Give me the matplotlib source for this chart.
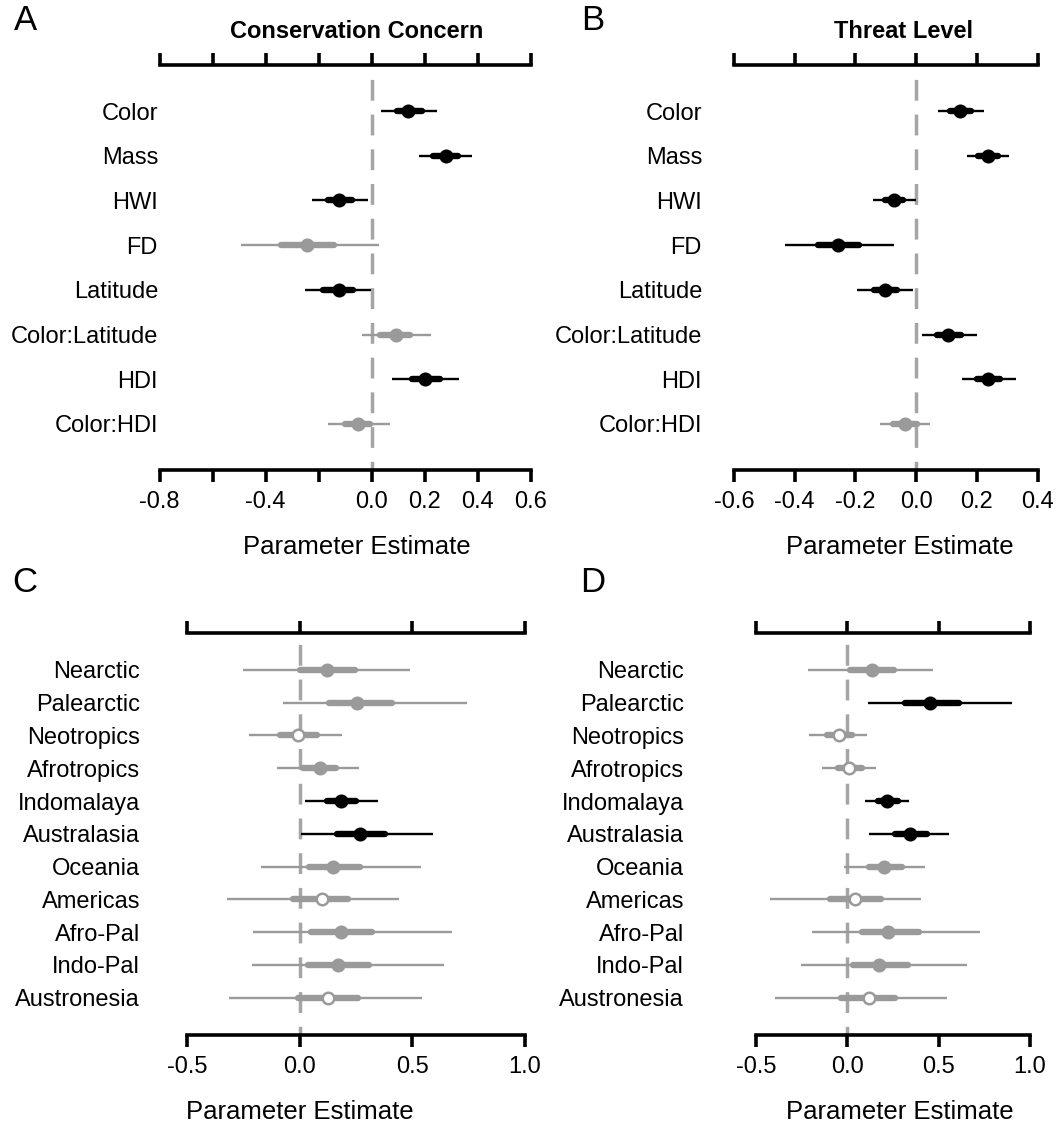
import matplotlib
matplotlib.use("Agg")
import matplotlib.pyplot as plt
from matplotlib import transforms

plt.rcParams["font.family"] = ["Liberation Sans", "DejaVu Sans"]

# ---- model terms (panels A and B) ----
terms = ["Color", "Mass", "HWI", "FD", "Latitude", "Color:Latitude", "HDI", "Color:HDI"]

# conservation concern
cc_est  = [0.138, 0.280, -0.122, -0.243, -0.122, 0.090, 0.200, -0.051]
cc_lo95 = [0.034, 0.178, -0.224, -0.493, -0.252, -0.036, 0.075, -0.166]
cc_hi95 = [0.245, 0.379, -0.013, 0.028, -0.004, 0.223, 0.329, 0.069]
cc_lo50 = [0.094, 0.232, -0.164, -0.343, -0.183, 0.031, 0.150, -0.101]
cc_hi50 = [0.188, 0.326, -0.076, -0.141, -0.070, 0.144, 0.257, -0.007]

# threat level
tl_est  = [0.144, 0.237, -0.074, -0.256, -0.103, 0.106, 0.237, -0.037]
tl_lo95 = [0.071, 0.167, -0.141, -0.432, -0.196, 0.018, 0.152, -0.119]
tl_hi95 = [0.223, 0.305, -0.002, -0.073, -0.010, 0.201, 0.328, 0.045]
tl_lo50 = [0.111, 0.205, -0.103, -0.322, -0.139, 0.070, 0.199, -0.075]
tl_hi50 = [0.179, 0.270, -0.042, -0.187, -0.064, 0.146, 0.276, 0.002]

# ---- realms (panels C and D) ----
realms = ["Nearctic", "Palearctic", "Neotropics", "Afrotropics", "Indomalaya",
          "Australasia", "Oceania", "Americas", "Afro-Pal", "Indo-Pal", "Austronesia"]

rc_est  = [0.122, 0.255, -0.007, 0.089, 0.183, 0.267, 0.148, 0.097, 0.181, 0.171, 0.126]
rc_lo95 = [-0.254, -0.076, -0.225, -0.100, 0.023, 0.005, -0.173, -0.325, -0.210, -0.211, -0.314]
rc_hi95 = [0.489, 0.744, 0.186, 0.264, 0.346, 0.590, 0.537, 0.440, 0.677, 0.641, 0.544]
rc_lo50 = [0.000, 0.131, -0.088, 0.015, 0.119, 0.163, 0.042, -0.029, 0.049, 0.037, -0.007]
rc_hi50 = [0.245, 0.408, 0.075, 0.160, 0.249, 0.378, 0.267, 0.215, 0.322, 0.308, 0.259]
rc_hollow = [False, False, True, False, False, False, False, True, False, False, True]

rt_est  = [0.133, 0.453, -0.047, 0.009, 0.216, 0.343, 0.203, 0.042, 0.221, 0.175, 0.120]
rt_lo95 = [-0.214, 0.112, -0.208, -0.139, 0.097, 0.119, -0.018, -0.423, -0.192, -0.255, -0.396]
rt_hi95 = [0.470, 0.900, 0.110, 0.155, 0.339, 0.558, 0.425, 0.402, 0.726, 0.654, 0.547]
rt_lo50 = [0.015, 0.316, -0.110, -0.049, 0.170, 0.261, 0.120, -0.095, 0.079, 0.033, -0.036]
rt_hi50 = [0.256, 0.611, 0.024, 0.079, 0.279, 0.435, 0.298, 0.184, 0.394, 0.334, 0.261]
rt_hollow = [False, False, True, True, False, False, False, True, False, False, True]

ticks_a = [-0.8, -0.6, -0.4, -0.2, 0.0, 0.2, 0.4, 0.6]
labels_a = ["-0.8", "", "-0.4", "", "0.0", "0.2", "0.4", "0.6"]
ticks_b = [-0.6, -0.4, -0.2, 0.0, 0.2, 0.4]
labels_b = ["-0.6", "-0.4", "-0.2", "0.0", "0.2", "0.4"]
ticks_cd = [-0.5, 0.0, 0.5, 1.0]
labels_cd = ["-0.5", "0.0", "0.5", "1.0"]

W, H = 1058, 1132
GREY = "#9a9a9a"
ZERO = "#a5a5a5"
FS = 17

fig = plt.figure(figsize=(W / 100, H / 100), dpi=100)


def box(x0, x1, y0, y1):
    """axes rect from pixel edges (y measured from the top)"""
    return [x0 / W, 1 - y1 / H, (x1 - x0) / W, (y1 - y0) / H]


def draw_panel(rect, names, est, lo95, hi95, lo50, hi50, ticks, labels,
               ylim, label_px, hollow=None):
    ax = fig.add_axes(rect)
    ax.set_xlim(ticks[0], ticks[-1])
    ax.set_ylim(*ylim)
    ax.plot([0, 0], ylim, color=ZERO, lw=2.5, linestyle=(3.5, (6.0, 4.0)),
            solid_capstyle="butt", zorder=1)
    ytrans = transforms.blended_transform_factory(fig.transFigure, ax.transData)
    for i, name in enumerate(names):
        r = i + 1
        col = "black" if (lo95[i] > 0 or hi95[i] < 0) else GREY
        ax.plot([lo95[i], hi95[i]], [r, r], color=col, lw=1.7,
                solid_capstyle="butt", zorder=2)
        ax.plot([lo50[i], hi50[i]], [r, r], color=col, lw=4.6,
                solid_capstyle="round", zorder=3)
        face = "white" if (hollow and hollow[i]) else col
        ax.plot(est[i], r, "o", ms=8.3, mfc=face, mec=col, mew=1.8, zorder=4)
        ax.text(label_px / W, r, name, transform=ytrans, ha="right",
                va="center_baseline", fontsize=FS)
    for side in ("left", "right"):
        ax.spines[side].set_visible(False)
    for side in ("top", "bottom"):
        ax.spines[side].set_linewidth(2.6)
        ax.spines[side].set_capstyle("projecting")
    ax.set_xticks(ticks)
    ax.set_xticklabels(labels)
    ax.set_yticks([])
    ax.tick_params(axis="x", top=True, bottom=True, direction="out",
                   length=8.5, width=2.6, labelsize=FS, pad=6.5)
    ax.patch.set_visible(False)
    return ax


n_ab = len(terms)
ylim_ab = (n_ab + 1.03, -0.03)
n_cd = len(realms)
ylim_cd = (n_cd + 1.135, -0.135)

draw_panel(box(159.5, 531, 65, 470), terms, cc_est, cc_lo95, cc_hi95,
           cc_lo50, cc_hi50, ticks_a, labels_a, ylim_ab, 158)
draw_panel(box(734, 1037.7, 65, 470), terms, tl_est, tl_lo95, tl_hi95,
           tl_lo50, tl_hi50, ticks_b, labels_b, ylim_ab, 702)
draw_panel(box(187.3, 525, 632.7, 1035), realms, rc_est, rc_lo95, rc_hi95,
           rc_lo50, rc_hi50, ticks_cd, labels_cd, ylim_cd, 140, rc_hollow)
draw_panel(box(756, 1030, 632.7, 1035), realms, rt_est, rt_lo95, rt_hi95,
           rt_lo50, rt_hi50, ticks_cd, labels_cd, ylim_cd, 684, rt_hollow)


def ftext(px, py, s, **kw):
    fig.text(px / W, 1 - py / H, s, ha="center", va="center", **kw)


ftext(357, 31, "Conservation Concern", fontsize=FS, fontweight="bold")
ftext(904, 31, "Threat Level", fontsize=FS, fontweight="bold")
ftext(357, 547, "Parameter Estimate", fontsize=18.5)
ftext(900, 547, "Parameter Estimate", fontsize=18.5)
ftext(300, 1112, "Parameter Estimate", fontsize=18.5)
ftext(900, 1112, "Parameter Estimate", fontsize=18.5)

for letter, px, py in [("A", 25, 21), ("B", 593, 21), ("C", 25, 582), ("D", 593, 582)]:
    ftext(px, py, letter, fontsize=25)

fig.savefig("out.png", dpi=100)
